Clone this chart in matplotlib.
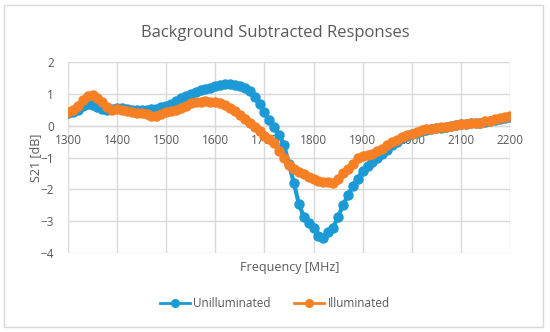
import matplotlib
matplotlib.use('Agg')
import matplotlib.pyplot as plt
from matplotlib.patches import Rectangle

plt.rcParams['font.family'] = ['Open Sans', 'DejaVu Sans']

# Data (every 10 MHz)
freq = list(range(1300, 2201, 10))

unilluminated = [
    0.40, 0.42, 0.50, 0.62, 0.68, 0.66, 0.58, 0.54, 0.50, 0.52,
    0.56, 0.55, 0.52, 0.50, 0.49, 0.50, 0.50, 0.52, 0.54, 0.58,
    0.62, 0.68, 0.78, 0.86, 0.94, 1.00, 1.06, 1.12, 1.16, 1.20,
    1.25, 1.28, 1.32, 1.30, 1.28, 1.25, 1.20, 1.08, 0.90, 0.68,
    0.42, 0.18, -0.05, -0.28, -0.62, -1.20, -1.80, -2.45, -2.86, -3.05,
    -3.23, -3.48, -3.52, -3.35, -3.20, -2.86, -2.50, -2.18, -1.90, -1.66,
    -1.42, -1.28, -1.15, -1.02, -0.90, -0.75, -0.62, -0.50, -0.40, -0.32,
    -0.27, -0.22, -0.16, -0.12, -0.10, -0.08, -0.06, -0.04, -0.02, 0.02,
    0.05, 0.06, 0.08, 0.10, 0.10, 0.12, 0.15, 0.18, 0.20, 0.25,
    0.28,
]

illuminated = [
    0.42, 0.50, 0.62, 0.80, 0.92, 0.96, 0.88, 0.74, 0.60, 0.48,
    0.52, 0.50, 0.46, 0.42, 0.40, 0.40, 0.36, 0.32, 0.30, 0.36,
    0.42, 0.46, 0.50, 0.55, 0.62, 0.70, 0.74, 0.76, 0.78, 0.76,
    0.74, 0.70, 0.66, 0.56, 0.46, 0.34, 0.22, 0.10, -0.05, -0.18,
    -0.31, -0.42, -0.55, -0.80, -1.00, -1.22, -1.36, -1.45, -1.52, -1.60,
    -1.68, -1.74, -1.77, -1.78, -1.80, -1.66, -1.50, -1.36, -1.20, -1.02,
    -0.94, -0.91, -0.88, -0.80, -0.72, -0.62, -0.52, -0.45, -0.36, -0.30,
    -0.26, -0.20, -0.14, -0.11, -0.10, -0.07, -0.05, -0.03, -0.01, 0.02,
    0.05, 0.06, 0.08, 0.10, 0.10, 0.14, 0.16, 0.20, 0.24, 0.28,
    0.31,
]

xticks = list(range(1300, 2201, 100))
yticks = [-4, -3, -2, -1, 0, 1, 2]

text_color = '#595959'
grid_color = '#d9d9d9'
blue = '#1b9ad6'
orange = '#f77f24'

fig = plt.figure(figsize=(5.5, 3.32), dpi=100)
ax = fig.add_axes([0.1236, 0.238, 0.8036, 0.575])

ax.plot(freq, unilluminated, 'o-', color=blue, lw=3, markersize=6.5,
        label='Unilluminated', zorder=3)
ax.plot(freq, illuminated, 'o-', color=orange, lw=3, markersize=6.5,
        label='Illuminated', zorder=4)

ax.set_xlim(1300, 2200)
ax.set_ylim(-4, 2)
ax.set_xticks(xticks)
ax.set_yticks(yticks)
ax.set_yticklabels([f'{v}'.replace('-', '\u2212') for v in yticks])

# Excel style: x axis crosses at 0
for s in ['top', 'right', 'left']:
    ax.spines[s].set_visible(False)
ax.spines['bottom'].set_position(('data', 0))
ax.spines['bottom'].set_color(grid_color)
ax.spines['bottom'].set_linewidth(1)
ax.tick_params(axis='both', length=0, labelsize=8.5, labelcolor=text_color)
ax.tick_params(axis='x', pad=6)
ax.tick_params(axis='y', pad=10)
ax.grid(True, color=grid_color, lw=1)
ax.set_axisbelow(True)

fig.text(0.5, 0.9, 'Background Subtracted Responses', ha='center', va='center',
         fontsize=12, color=text_color)
fig.text(0.527, 0.195, 'Frequency [MHz]', ha='center', va='center',
         fontsize=9, color=text_color)
fig.text(0.064, 0.525, 'S21 [dB]', ha='center', va='center', rotation=90,
         fontsize=9, color=text_color)

leg = fig.legend(loc='center', bbox_to_anchor=(0.5, 0.085), ncol=2,
                 frameon=False, fontsize=8.5, handlelength=2.5,
                 columnspacing=2.0, handletextpad=0.3, markerscale=0.85)
for t in leg.get_texts():
    t.set_color(text_color)
for h in leg.legend_handles:
    h.set_linewidth(2)

fig.patches.append(Rectangle((4 / 550, 5 / 332), 539 / 550, 322 / 332,
                             transform=fig.transFigure, fill=False,
                             edgecolor=grid_color, lw=1))

fig.savefig('out.png', dpi=100)
